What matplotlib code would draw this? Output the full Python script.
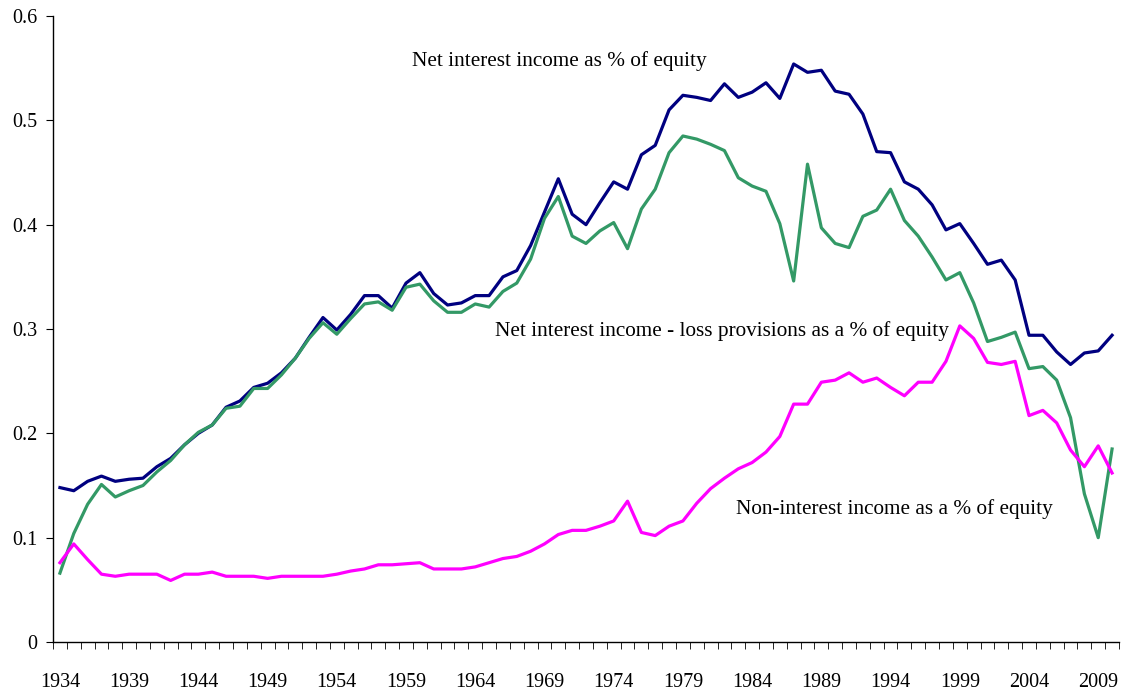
import numpy as np
import matplotlib
matplotlib.use("Agg")
import matplotlib.pyplot as plt

plt.rcParams['font.family'] = ['Liberation Serif', 'DejaVu Serif']

years = np.arange(1934, 2011)

# net interest income as % of equity
nii = [0.148, 0.145, 0.154, 0.159, 0.154, 0.156, 0.157, 0.168, 0.176, 0.189,
       0.200, 0.208, 0.225, 0.231, 0.244, 0.248, 0.258, 0.272, 0.292, 0.311,
       0.299, 0.314, 0.332, 0.332, 0.320, 0.344, 0.354, 0.334, 0.323, 0.325,
       0.332, 0.332, 0.350, 0.356, 0.380, 0.412, 0.444, 0.410, 0.400, 0.421,
       0.441, 0.434, 0.467, 0.476, 0.510, 0.524, 0.522, 0.519, 0.535, 0.522,
       0.527, 0.536, 0.521, 0.554, 0.546, 0.548, 0.528, 0.525, 0.506, 0.470,
       0.469, 0.441, 0.434, 0.419, 0.395, 0.401, 0.382, 0.362, 0.366, 0.347,
       0.294, 0.294, 0.278, 0.266, 0.277, 0.279, 0.294]

# net interest income - loss provisions as % of equity
nii_lp = [0.066, 0.104, 0.132, 0.151, 0.139, 0.145, 0.150, 0.163, 0.174, 0.189,
          0.201, 0.208, 0.224, 0.226, 0.243, 0.243, 0.256, 0.272, 0.291, 0.306,
          0.295, 0.310, 0.324, 0.326, 0.318, 0.340, 0.343, 0.327, 0.316, 0.316,
          0.324, 0.321, 0.336, 0.344, 0.367, 0.406, 0.427, 0.389, 0.382, 0.394,
          0.402, 0.377, 0.415, 0.434, 0.469, 0.485, 0.482, 0.477, 0.471, 0.445,
          0.437, 0.432, 0.401, 0.346, 0.458, 0.397, 0.382, 0.378, 0.408, 0.414,
          0.434, 0.404, 0.389, 0.369, 0.347, 0.354, 0.325, 0.288, 0.292, 0.297,
          0.262, 0.264, 0.251, 0.215, 0.142, 0.100, 0.185]

# non-interest income as % of equity
non_ii = [0.076, 0.094, 0.079, 0.065, 0.063, 0.065, 0.065, 0.065, 0.059, 0.065,
          0.065, 0.067, 0.063, 0.063, 0.063, 0.061, 0.063, 0.063, 0.063, 0.063,
          0.065, 0.068, 0.070, 0.074, 0.074, 0.075, 0.076, 0.070, 0.070, 0.070,
          0.072, 0.076, 0.080, 0.082, 0.087, 0.094, 0.103, 0.107, 0.107, 0.111,
          0.116, 0.135, 0.105, 0.102, 0.111, 0.116, 0.133, 0.147, 0.157, 0.166,
          0.172, 0.182, 0.197, 0.228, 0.228, 0.249, 0.251, 0.258, 0.249, 0.253,
          0.244, 0.236, 0.249, 0.249, 0.269, 0.303, 0.291, 0.268, 0.266, 0.269,
          0.217, 0.222, 0.210, 0.184, 0.168, 0.188, 0.162]

x = np.arange(len(years))

fig = plt.figure(figsize=(11.37, 6.96), dpi=100)
ax = fig.add_axes([53/1137, 1 - 642/696, 1066/1137, 626/696])

ax.plot(x, nii, color='#000080', lw=2.3)
ax.plot(x, nii_lp, color='#339966', lw=2.3)
ax.plot(x, non_ii, color='#FF00FF', lw=2.3)

ax.set_xlim(-0.5, len(years) - 0.5)
ax.set_ylim(0, 0.6)
ax.set_yticks(np.arange(0, 0.61, 0.1))
ax.set_yticklabels(['0', '0.1', '0.2', '0.3', '0.4', '0.5', '0.6'])

lab_idx = x[::5]
ax.set_xticks(lab_idx)
ax.set_xticklabels([str(years[i]) for i in lab_idx])
ax.set_xticks(np.arange(-0.5, len(years), 1), minor=True)
ax.tick_params(axis='x', which='major', length=0, pad=22, labelsize=14.5)
ax.tick_params(axis='x', which='minor', length=5, direction='out')
ax.tick_params(axis='y', length=5, direction='out', labelsize=14.5, pad=6)

for s in ['top', 'right']:
    ax.spines[s].set_visible(False)
for s in ['left', 'bottom']:
    ax.spines[s].set_linewidth(1.0)

ax.text(25.4, 0.557, 'Net interest income as % of equity', fontsize=15.3, va='center')
ax.text(31.4, 0.298, 'Net interest income - loss provisions as a % of equity', fontsize=15.3, va='center')
ax.text(48.8, 0.1275, 'Non-interest income as a % of equity', fontsize=15.3, va='center')

fig.savefig('out.png', dpi=100)
